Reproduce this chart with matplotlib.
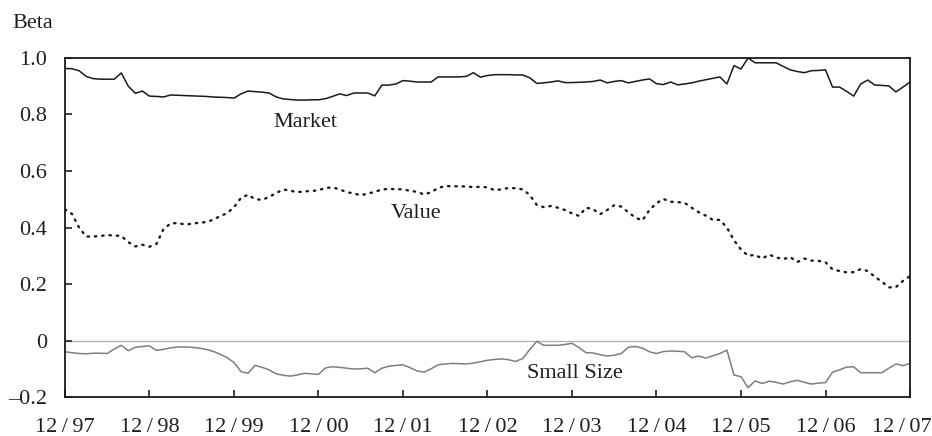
import numpy as np
import matplotlib
matplotlib.use("Agg")
import matplotlib.pyplot as plt
from matplotlib.transforms import ScaledTranslation

# monthly betas, 12/97 .. 12/07 (121 months)
market = [
    0.963, 0.962, 0.955, 0.935, 0.927, 0.925, 0.925, 0.925, 0.947, 0.900,
    0.875, 0.883, 0.865, 0.864, 0.862, 0.869, 0.868, 0.867, 0.866, 0.865,
    0.864, 0.862, 0.861, 0.860, 0.858, 0.873, 0.883, 0.881, 0.879, 0.876,
    0.862, 0.855, 0.853, 0.851, 0.851, 0.852, 0.852, 0.856, 0.864, 0.873,
    0.867, 0.876, 0.876, 0.876, 0.866, 0.904, 0.904, 0.908, 0.920, 0.918,
    0.915, 0.915, 0.915, 0.933, 0.933, 0.933, 0.933, 0.935, 0.948, 0.932,
    0.938, 0.941, 0.941, 0.941, 0.940, 0.940, 0.930, 0.910, 0.912, 0.915,
    0.919, 0.913, 0.913, 0.914, 0.915, 0.917, 0.922, 0.912, 0.917, 0.920,
    0.912, 0.917, 0.922, 0.926, 0.909, 0.906, 0.915, 0.905, 0.908, 0.912,
    0.918, 0.923, 0.928, 0.933, 0.908, 0.973, 0.961, 1.000, 0.983, 0.983,
    0.983, 0.983, 0.970, 0.958, 0.952, 0.948, 0.955, 0.956, 0.958, 0.897,
    0.897, 0.882, 0.865, 0.908, 0.922, 0.904, 0.903, 0.901, 0.880, 0.897,
    0.915,
]
value = [
    0.464, 0.448, 0.400, 0.368, 0.368, 0.370, 0.373, 0.372, 0.370, 0.348,
    0.333, 0.339, 0.332, 0.342, 0.395, 0.414, 0.416, 0.411, 0.413, 0.417,
    0.419, 0.427, 0.440, 0.450, 0.472, 0.505, 0.516, 0.500, 0.498, 0.508,
    0.522, 0.535, 0.530, 0.525, 0.528, 0.529, 0.532, 0.540, 0.542, 0.535,
    0.525, 0.521, 0.514, 0.520, 0.526, 0.535, 0.536, 0.536, 0.535, 0.530,
    0.526, 0.517, 0.525, 0.540, 0.547, 0.546, 0.546, 0.545, 0.543, 0.544,
    0.542, 0.532, 0.535, 0.540, 0.539, 0.535, 0.515, 0.480, 0.472, 0.476,
    0.470, 0.462, 0.450, 0.441, 0.470, 0.465, 0.447, 0.462, 0.479, 0.474,
    0.454, 0.435, 0.425, 0.462, 0.486, 0.501, 0.491, 0.490, 0.487, 0.470,
    0.454, 0.442, 0.427, 0.427, 0.400, 0.355, 0.322, 0.300, 0.303, 0.290,
    0.304, 0.294, 0.288, 0.295, 0.278, 0.290, 0.283, 0.282, 0.277, 0.252,
    0.246, 0.241, 0.242, 0.253, 0.246, 0.226, 0.208, 0.188, 0.189, 0.211,
    0.228,
]
small_size = [
    -0.040, -0.043, -0.046, -0.047, -0.045, -0.045, -0.046, -0.030, -0.017, -0.036,
    -0.024, -0.021, -0.019, -0.035, -0.031, -0.026, -0.023, -0.023, -0.024, -0.027,
    -0.031, -0.038, -0.048, -0.060, -0.078, -0.110, -0.116, -0.088, -0.095, -0.104,
    -0.118, -0.123, -0.126, -0.122, -0.116, -0.118, -0.120, -0.097, -0.093, -0.095,
    -0.098, -0.101, -0.100, -0.098, -0.114, -0.098, -0.091, -0.088, -0.086, -0.096,
    -0.108, -0.112, -0.100, -0.086, -0.083, -0.081, -0.082, -0.083, -0.080, -0.075,
    -0.070, -0.067, -0.065, -0.068, -0.074, -0.064, -0.032, -0.003, -0.017, -0.017,
    -0.017, -0.014, -0.010, -0.025, -0.043, -0.044, -0.050, -0.055, -0.052, -0.046,
    -0.024, -0.021, -0.027, -0.040, -0.046, -0.039, -0.037, -0.038, -0.040, -0.061,
    -0.055, -0.062, -0.054, -0.046, -0.034, -0.122, -0.128, -0.167, -0.143, -0.152,
    -0.144, -0.148, -0.154, -0.146, -0.141, -0.148, -0.154, -0.151, -0.149, -0.112,
    -0.104, -0.094, -0.093, -0.114, -0.114, -0.114, -0.114, -0.098, -0.083, -0.089,
    -0.081,
]
x_labels = ["12/97", "12/98", "12/99", "12/00", "12/01", "12/02",
            "12/03", "12/04", "12/05", "12/06", "12/07"]
y_ticks = [-0.2, 0, 0.2, 0.4, 0.6, 0.8, 1.0]
y_labels = ["\u20130.2", "0", "0.2", "0.4", "0.6", "0.8", "1.0"]

months = np.arange(len(market))
text_col = "#231f20"

plt.rcParams["font.family"] = ["Liberation Serif", "DejaVu Serif"]
plt.rcParams["font.size"] = 16

fig = plt.figure(figsize=(9.32, 4.36), dpi=100)
ax = fig.add_axes([0.0697, 0.0894, 0.9067, 0.7776])

ax.axhline(0, color="#b3b3b3", lw=1.0, zorder=1)
ax.plot(months, market, color="#1a1a1a", lw=1.1, zorder=3)
ax.plot(months, value, color="#1a1a1a", lw=1.7, linestyle=(0, (0.6, 2.5)),
        dash_capstyle="round", zorder=3)
ax.plot(months, small_size, color="#7f7f7f", lw=1.1, zorder=2)

ax.text(34.2, 0.772, "Market", ha="center", va="center", color=text_col)
ax.text(49.9, 0.450, "Value", ha="center", va="center", color=text_col)
ax.text(72.4, -0.115, "Small Size", ha="center", va="center", color=text_col)

ax.set_xlim(0, 120)
ax.set_ylim(-0.2, 1.0)
ax.set_xticks(np.arange(0, 121, 12))
ax.set_xticklabels([s.replace("/", "\u2009/\u2009") for s in x_labels])
ax.set_yticks(y_ticks)
ax.set_yticklabels(y_labels)
ax.tick_params(axis="both", direction="in", length=5, width=1.2,
               colors=text_col, labelsize=16)
ax.tick_params(axis="y", pad=13)
ax.tick_params(axis="x", pad=15)
for s in ax.spines.values():
    s.set_linewidth(1.3)
    s.set_color("#1a1a1a")

# nudge the last date label inward so it stays on the canvas
last = ax.get_xticklabels()[-1]
last.set_transform(last.get_transform() +
                   ScaledTranslation(-8 / 100, 0, fig.dpi_scale_trans))

fig.text(12 / 932, 1 - 24 / 436, "Beta", ha="left", va="center",
         color=text_col, fontsize=16)

fig.savefig("out.png", dpi=100)
